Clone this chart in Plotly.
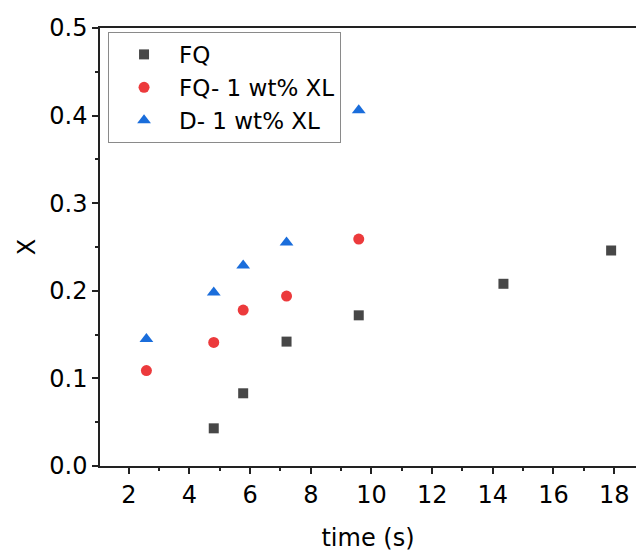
import plotly.graph_objects as go

# Data
fq_time = [4.8, 5.77, 7.2, 9.58, 14.35, 17.9]
fq_x = [0.043, 0.083, 0.142, 0.172, 0.208, 0.246]

fqxl_time = [2.58, 4.8, 5.77, 7.2, 9.58]
fqxl_x = [0.109, 0.141, 0.178, 0.194, 0.259]

dxl_time = [2.58, 4.8, 5.77, 7.2, 9.58]
dxl_x = [0.145, 0.198, 0.229, 0.255, 0.406]

series_names = ["FQ", "FQ- 1 wt% XL", "D- 1 wt% XL"]

FONT = "DejaVu Sans, Liberation Sans, Arial, sans-serif"

fig = go.Figure()
fig.add_trace(go.Scatter(x=fq_time, y=fq_x, mode="markers", name=series_names[0],
                         marker=dict(symbol="square", size=10, color="#474747")))
fig.add_trace(go.Scatter(x=fqxl_time, y=fqxl_x, mode="markers", name=series_names[1],
                         marker=dict(symbol="circle", size=11, color="#ec3a3c")))
fig.add_trace(go.Scatter(x=dxl_time, y=dxl_x, mode="markers", name=series_names[2],
                         marker=dict(symbol="triangle-up", size=12, color="#1a6ddb")))

fig.update_layout(
    width=636, height=552,
    margin=dict(l=100, r=0, t=28, b=86),
    paper_bgcolor="white", plot_bgcolor="white",
    font=dict(family=FONT, size=24, color="black"),
    showlegend=True,
    legend=dict(x=0.015, y=0.991, xanchor="left", yanchor="top",
                bgcolor="white", bordercolor="#8a8a8a", borderwidth=1,
                font=dict(family=FONT, size=23, color="black"),
                itemwidth=60, tracegroupgap=0),
)

fig.update_xaxes(
    range=[1.05, 18.72], tickmode="array", tickvals=[2, 4, 6, 8, 10, 12, 14, 16, 18],
    ticks="outside", ticklen=6, tickwidth=1.5, tickcolor="#222",
    minor=dict(tickvals=[1, 3, 5, 7, 9, 11, 13, 15, 17], ticks="outside", ticklen=3, tickwidth=1.5, tickcolor="#222"),
    showline=True, linecolor="#222", linewidth=1.5, mirror=True,
    showgrid=False, zeroline=False,
    tickfont=dict(family=FONT, size=24, color="black"),
    title=dict(text="time (s)", font=dict(family=FONT, size=24, color="black"), standoff=26),
)
fig.update_yaxes(
    range=[0, 0.5], tickmode="array", tickvals=[0, 0.1, 0.2, 0.3, 0.4, 0.5],
    ticktext=["0.0", "0.1", "0.2", "0.3", "0.4", "0.5"],
    ticks="outside", ticklen=6, tickwidth=1.5, tickcolor="#222",
    minor=dict(tickvals=[0.05, 0.15, 0.25, 0.35, 0.45], ticks="outside", ticklen=3, tickwidth=1.5, tickcolor="#222"),
    showline=True, linecolor="#222", linewidth=1.5,
    showgrid=False, zeroline=False,
    tickfont=dict(family=FONT, size=24, color="black"),
    title=dict(text="X", font=dict(family=FONT, size=24, color="black"), standoff=7),
)

fig.write_html("out.html", config={"displayModeBar": False},
               post_script="document.body.style.margin='0px';")
